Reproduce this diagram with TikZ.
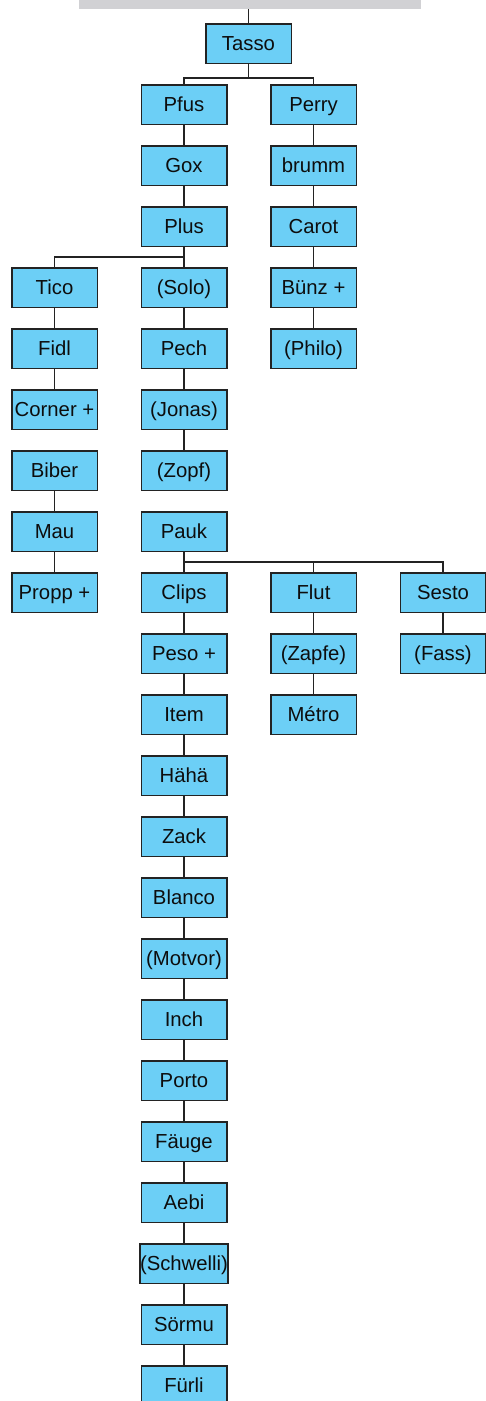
\documentclass[tikz,border=0pt]{standalone}
\usepackage{fontspec}
\setmainfont{Liberation Sans}
\definecolor{boxfill}{RGB}{108,207,246}
\definecolor{boxline}{RGB}{35,35,35}
\definecolor{barfill}{RGB}{209,209,212}
\tikzset{
  box/.style={draw=boxline, line width=1.5pt, fill=boxfill, minimum width=85.5pt,
    minimum height=39.5pt, inner sep=0pt, text height=14.8pt, text depth=0pt,
    text=black!95, font=\fontsize{20.3}{24}\selectfont},
  link/.style={draw=boxline, line width=1.5pt}
}
\begin{document}
\begin{tikzpicture}[x=1pt,y=-1pt]
\useasboundingbox (0,0) rectangle (486,1401);
\clip (0,0) rectangle (486,1401);

% header strip
\node[fill=barfill, minimum width=342pt, minimum height=9pt, inner sep=0pt,
      anchor=north west] (topbar) at (79,0) {};

% root
\node[box] (tasso) at (248.5,43.5) {Tasso};

% left main branch
\node[box] (pfus)  at (184,104.5) {Pfus};
\node[box] (gox)   at (184,165.5) {Gox};
\node[box] (plus)  at (184,226.5) {Plus};
\node[box] (solo)  at (184,287.5) {(Solo)};
\node[box] (pech)  at (184,348.5) {Pech};
\node[box] (jonas) at (184,409.5) {(Jonas)};
\node[box] (zopf)  at (184,470.5) {(Zopf)};
\node[box] (pauk)  at (184,531.5) {Pauk};
\node[box] (clips) at (184,592.5) {Clips};
\node[box] (peso)  at (184,653.5) {Peso +};
\node[box] (item)  at (184,714.5) {Item};
\node[box] (haha)  at (184,775.5) {Hähä};
\node[box] (zack)  at (184,836.5) {Zack};
\node[box] (blanco) at (184,897.5) {Blanco};
\node[box] (motvor) at (184,958.5) {(Motvor)};
\node[box] (inch)  at (184,1019.5) {Inch};
\node[box] (porto) at (184,1080.5) {Porto};
\node[box] (fauge) at (184,1141.5) {Fäuge};
\node[box] (aebi)  at (184,1202.5) {Aebi};
\node[box] (schwelli) at (184,1263.5) {(Schwelli)};
\node[box] (sormu) at (184,1324.5) {Sörmu};
\node[box] (furli) at (184,1385.5) {Fürli};

% right main branch
\node[box] (perry) at (313.5,104.5) {Perry};
\node[box] (brumm) at (313.5,165.5) {brumm};
\node[box] (carot) at (313.5,226.5) {Carot};
\node[box] (bunz)  at (313.5,287.5) {Bünz +};
\node[box] (philo) at (313.5,348.5) {(Philo)};

% far left column
\node[box] (tico)   at (54.5,287.5) {Tico};
\node[box] (fidl)   at (54.5,348.5) {Fidl};
\node[box] (corner) at (54.5,409.5) {Corner +};
\node[box] (biber)  at (54.5,470.5) {Biber};
\node[box] (mau)    at (54.5,531.5) {Mau};
\node[box] (propp)  at (54.5,592.5) {Propp +};

% children of Pauk
\node[box] (flut)  at (313.5,592.5) {Flut};
\node[box] (zapfe) at (313.5,653.5) {(Zapfe)};
\node[box] (metro) at (313.5,714.5) {Métro};
\node[box] (sesto) at (443,592.5) {Sesto};
\node[box] (fass)  at (443,653.5) {(Fass)};

% branching bars
\coordinate (bar0) at (248.5,78);
\coordinate (bar1) at (184,257);
\coordinate (bar2) at (184,562);

\draw[link] (tasso.north) -- (tasso.north |- topbar.south);
\draw[link] (tasso.south) -- (bar0);
\draw[link] (pfus.north) |- (bar0) -| (perry.north);
\draw[link] (tico.north) |- (bar1);
\draw[link] (clips.north |- bar2) -| (sesto.north);
\draw[link] (flut.north) -- (flut.north |- bar2);

\foreach \a/\b in {pfus/gox, gox/plus, plus/solo, solo/pech, pech/jonas,
    jonas/zopf, pauk/clips, clips/peso, peso/item, item/haha, haha/zack,
    zack/blanco, blanco/motvor, motvor/inch, inch/porto, porto/fauge,
    fauge/aebi, aebi/schwelli, schwelli/sormu, sormu/furli,
    perry/brumm, brumm/carot, carot/bunz, bunz/philo,
    tico/fidl, fidl/corner, biber/mau, mau/propp,
    flut/zapfe, zapfe/metro, sesto/fass}
  \draw[link] (\a.south) -- (\b.north);
\end{tikzpicture}
\end{document}
